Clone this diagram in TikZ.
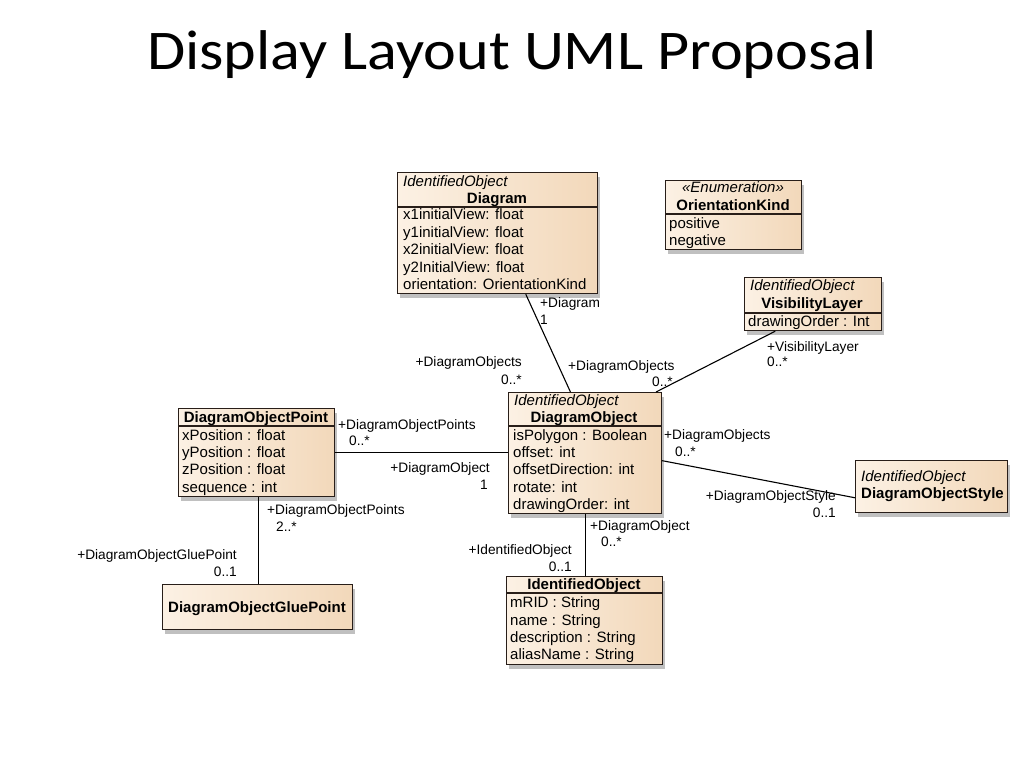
\documentclass[tikz,border=0pt]{standalone}
\usepackage{graphicx}
\usepackage{fontspec}
\setmainfont{Liberation Sans}
\newfontfamily\titlefont{Carlito}
\usetikzlibrary{shadows,calc}
\definecolor{boxL}{RGB}{252,241,228}
\definecolor{boxR}{RGB}{242,216,186}
\definecolor{edge}{RGB}{40,30,25}
\tikzset{
  cls/.style={draw=edge, line width=1.2pt, left color=boxL, right color=boxR, anchor=north west, inner sep=0pt,
    drop shadow={shadow xshift=2pt, shadow yshift=-4pt, opacity=0.35, fill=black!70}},
  boxtext/.style={inner sep=0pt, font=\fontsize{15}{17}\selectfont},
  attrW/.style={boxtext, anchor=base west},
  attrC/.style={boxtext, anchor=base},
  roletext/.style={inner sep=0pt, font=\fontsize{13.7}{16}\selectfont},
  roleW/.style={roletext, anchor=base west},
  roleE/.style={roletext, anchor=base east},
  sep/.style={draw=edge, line width=1.1pt},
  conn/.style={draw=black, line width=1.1pt}
}
\begin{document}
\begin{tikzpicture}[x=1pt,y=-1pt]
\useasboundingbox (0,0) rectangle (1024,768);
\fill[white] (0,0) rectangle (1024,768);
\node[inner sep=0pt, anchor=base, font=\titlefont\fontsize{56}{66}\selectfont] (title) at (512,69) {\scalebox{1.11}[1]{Display Layout UML Proposal}};

% Diagram
\node[cls, minimum width=200pt, minimum height=121pt] (diagram) at (397,172) {};
\draw[sep] (397,207) -- (597,207);
\node[attrW] (d0) at (403,186) {\itshape IdentifiedObject};
\node[attrC] (d1) at (497,203) {\bfseries Diagram};
\node[attrW] (d2) at (403,219) {x1initialView: float};
\node[attrW] (d3) at (403,237) {y1initialView: float};
\node[attrW] (d4) at (403,254) {x2initialView: float};
\node[attrW] (d5) at (403,272) {y2InitialView: float};
\node[attrW] (d6) at (403,289) {orientation: OrientationKind};

% OrientationKind
\node[cls, minimum width=136pt, minimum height=69pt] (orient) at (665,180) {};
\draw[sep] (665,214) -- (801,214);
\node[attrC] (o0) at (733,192) {\itshape «Enumeration»};
\node[attrC] (o1) at (733,210) {\bfseries OrientationKind};
\node[attrW] (o2) at (669,228) {positive};
\node[attrW] (o3) at (669,245) {negative};

% VisibilityLayer
\node[cls, minimum width=137pt, minimum height=53pt] (vis) at (744,277) {};
\draw[sep] (744,313) -- (881,313);
\node[attrW] (v0) at (750,290) {\itshape IdentifiedObject};
\node[attrC] (v1) at (812,308) {\bfseries VisibilityLayer};
\node[attrW] (v2) at (748,326) {drawingOrder : Int};

% DiagramObjectPoint
\node[cls, minimum width=156pt, minimum height=88pt] (dop) at (178,408) {};
\draw[sep] (178,426) -- (334,426);
\node[attrC] (p0) at (256,422) {\bfseries DiagramObjectPoint};
\node[attrW] (p1) at (182,440) {xPosition : float};
\node[attrW] (p2) at (182,457) {yPosition : float};
\node[attrW] (p3) at (182,474) {zPosition : float};
\node[attrW] (p4) at (182,492) {sequence : int};

% DiagramObject
\node[cls, minimum width=153pt, minimum height=121pt] (dobj) at (508,392) {};
\draw[sep] (508,426) -- (661,426);
\node[attrW] (b0) at (514,405) {\itshape IdentifiedObject};
\node[attrC] (b1) at (584,422) {\bfseries DiagramObject};
\node[attrW] (b2) at (513,440) {isPolygon : Boolean};
\node[attrW] (b3) at (513,457) {offset: int};
\node[attrW] (b4) at (513,474) {offsetDirection: int};
\node[attrW] (b5) at (513,492) {rotate: int};
\node[attrW] (b6) at (513,509) {drawingOrder: int};

% DiagramObjectStyle
\node[cls, minimum width=152pt, minimum height=52pt] (style) at (855,460) {};
\node[attrW] (s0) at (861,481) {\itshape IdentifiedObject};
\node[attrW] (s1) at (861,498) {\bfseries DiagramObjectStyle};

% DiagramObjectGluePoint
\node[cls, minimum width=190pt, minimum height=45pt] (glue) at (162,584) {};
\node[attrC] (g0) at (257,612) {\bfseries DiagramObjectGluePoint};

% IdentifiedObject
\node[cls, minimum width=156pt, minimum height=88pt] (ido) at (506,576) {};
\draw[sep] (506,593) -- (662,593);
\node[attrC] (i0) at (584,589) {\bfseries IdentifiedObject};
\node[attrW] (i1) at (510,607) {mRID : String};
\node[attrW] (i2) at (510,625) {name : String};
\node[attrW] (i3) at (510,642) {description : String};
\node[attrW] (i4) at (510,659) {aliasName : String};

% connectors
\draw[conn] ($(diagram.south west)!0.64!(diagram.south east)$) -- ($(dobj.north west)!0.405!(dobj.north east)$);
\draw[conn] ($(vis.south west)!0.226!(vis.south east)$) -- ($(dobj.north west)!0.96!(dobj.north east)$);
\draw[conn] (dop.east) -- (dop.east -| dobj.west);
\draw[conn] ($(dobj.north east)!0.562!(dobj.south east)$) -- ($(style.north west)!0.71!(style.south west)$);
\draw[conn] ($(dop.south)+(2,0)$) -- ($(dop.south |- glue.north)+(2,0)$);
\draw[conn] (dobj.south) -- (dobj.south |- ido.north);

% labels
\node[roleW] (l1) at (540,307) {+Diagram};
\node[roleW] (l2) at (540,324) {1};
\node[roleE] (l3) at (522,366) {+DiagramObjects};
\node[roleE] (l4) at (522,384) {0..*};
\node[roleW] (l5) at (568,370) {+DiagramObjects};
\node[roleE] (l6) at (673,386) {0..*};
\node[roleW] (l7) at (767,351) {+VisibilityLayer};
\node[roleW] (l8) at (767,366) {0..*};
\node[roleW] (l9) at (338,429) {+DiagramObjectPoints};
\node[roleW] (l10) at (349,445) {0..*};
\node[roleE] (l11) at (490,472) {+DiagramObject};
\node[roleE] (l12) at (488,489) {1};
\node[roleW] (l13) at (664,439) {+DiagramObjects};
\node[roleW] (l14) at (675,456) {0..*};
\node[roleE] (l15) at (836,500) {+DiagramObjectStyle};
\node[roleE] (l16) at (836,517) {0..1};
\node[roleW] (l17) at (267,514) {+DiagramObjectPoints};
\node[roleW] (l18) at (276,531) {2..*};
\node[roleE] (l19) at (237,559) {+DiagramObjectGluePoint};
\node[roleE] (l20) at (237,576) {0..1};
\node[roleW] (l21) at (590,530) {+DiagramObject};
\node[roleW] (l22) at (601,546) {0..*};
\node[roleE] (l23) at (572,554) {+IdentifiedObject};
\node[roleE] (l24) at (572,571) {0..1};
\end{tikzpicture}
\end{document}
